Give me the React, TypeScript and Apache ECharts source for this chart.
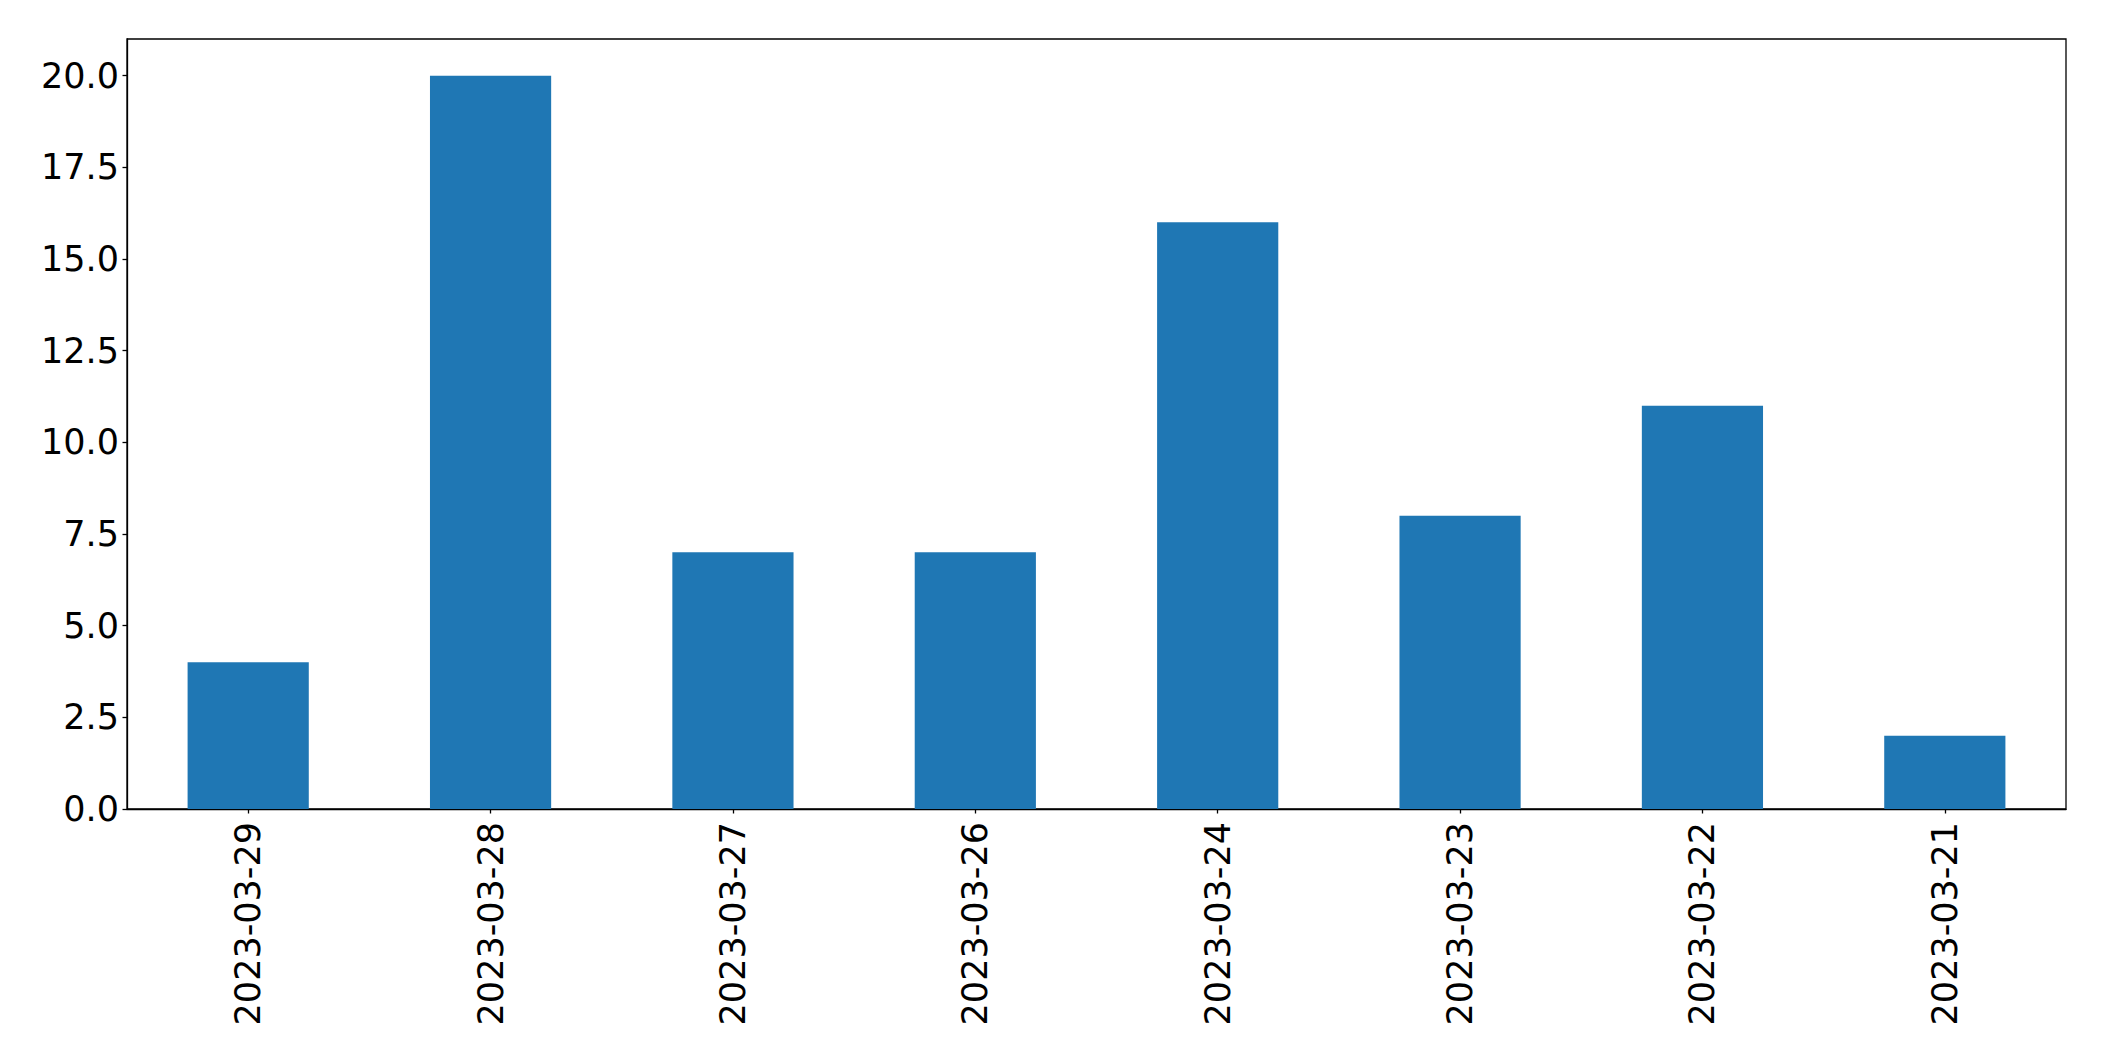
import React, { useEffect, useRef } from "react";
import * as echarts from "echarts";

const categories = [
  "2023-03-29",
  "2023-03-28",
  "2023-03-27",
  "2023-03-26",
  "2023-03-24",
  "2023-03-23",
  "2023-03-22",
  "2023-03-21",
];
const values = [4, 20, 7, 7, 16, 8, 11, 2];
const yTicks = [0, 2.5, 5, 7.5, 10, 12.5, 15, 17.5, 20];

const FONT = "DejaVu Sans";

export default function App() {
  const ref = useRef<HTMLDivElement>(null);
  useEffect(() => {
    document.body.style.margin = "0";
    if (!ref.current) return;
    const chart = echarts.init(ref.current, undefined, { renderer: "svg" });
    chart.setOption({
      animation: false,
      backgroundColor: "#ffffff",
      grid: {
        left: 127,
        right: 38,
        top: 39,
        bottom: 252,
        show: true,
        borderColor: "#000000",
        borderWidth: 1.3,
        containLabel: false,
      },
      xAxis: {
        type: "category",
        data: categories,
        boundaryGap: true,
        axisLine: { show: true, lineStyle: { color: "#000000", width: 1.3 } },
        axisTick: {
          show: true,
          alignWithLabel: true,
          length: 4.5,
          lineStyle: { color: "#000000", width: 1.3 },
        },
        axisLabel: {
          rotate: 90,
          fontSize: 35,
          fontFamily: FONT,
          color: "#000000",
          margin: 13,
          interval: 0,
        },
        splitLine: { show: false },
      },
      yAxis: {
        type: "value",
        min: 0,
        max: 21,
        interval: 2.5,
        axisLine: { show: true, lineStyle: { color: "#000000", width: 1.3 } },
        axisTick: {
          show: true,
          length: 4.5,
          customValues: yTicks,
          lineStyle: { color: "#000000", width: 1.3 },
        },
        axisLabel: {
          fontSize: 35,
          fontFamily: FONT,
          color: "#000000",
          margin: 8,
          customValues: yTicks,
          formatter: (v: number) =>
            yTicks.some((t) => Math.abs(t - v) < 1e-9) ? v.toFixed(1) : "",
        },
        splitLine: { show: false },
      },
      series: [
        {
          type: "bar",
          data: values,
          barWidth: "50%",
          itemStyle: { color: "#1f77b4" },
        },
      ],
    });
    return () => chart.dispose();
  }, []);
  return (
    <div
      ref={ref}
      style={{ position: "absolute", left: 0, top: 0, width: 2104, height: 1061 }}
    />
  );
}
